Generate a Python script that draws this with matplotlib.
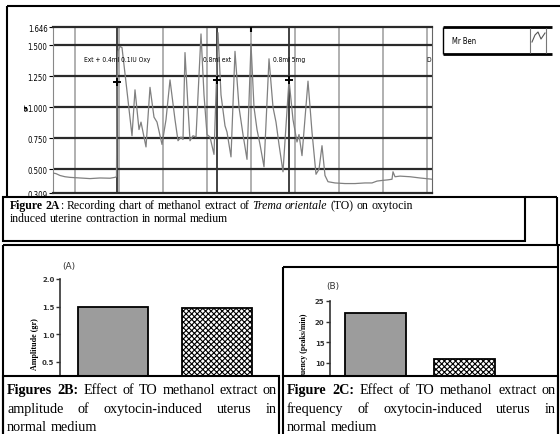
import matplotlib
matplotlib.use("Agg")
import matplotlib.pyplot as plt
from matplotlib.patches import Rectangle

# ---- data ----
# uterine trace (time in chart units, tension in gr)
trace_t = [0, 3, 7, 12, 17, 27, 37, 47, 57, 62, 63.5, 64, 65, 67, 69, 73, 79, 82, 86, 88,
           90, 93, 97, 101, 104, 109, 113, 117, 122, 125, 128, 130, 132, 135, 137, 140, 143,
           148, 151, 154, 157, 161, 165, 168, 172, 174, 178, 182, 186, 190, 194, 198, 201,
           204, 207, 211, 216, 220, 223, 226, 230, 236, 240, 244, 246, 249, 255, 259, 263,
           266, 269, 272, 275, 282, 292, 302, 312, 319, 324, 329, 335, 339, 340, 342, 347,
           357, 367, 379]
trace_v = [0.47, 0.465, 0.45, 0.44, 0.435, 0.43, 0.425, 0.43, 0.428, 0.435, 0.44, 1.2, 1.45,
           1.49, 1.48, 1.2, 0.77, 1.14, 0.82, 0.88, 0.80, 0.68, 1.16, 0.92, 0.88, 0.70, 0.9,
           1.22, 0.9, 0.73, 0.76, 0.74, 1.44, 1.0, 0.73, 0.77, 0.76, 1.59, 1.1, 0.78, 0.76,
           0.62, 1.60, 1.1, 0.85, 0.8, 0.60, 1.45, 1.0, 0.78, 0.58, 1.51, 1.0, 0.82, 0.7,
           0.52, 1.39, 1.0, 0.88, 0.7, 0.48, 1.22, 0.9, 0.72, 0.78, 0.61, 1.21, 0.8, 0.46,
           0.5, 0.69, 0.45, 0.40, 0.39, 0.385, 0.385, 0.39, 0.39, 0.405, 0.41, 0.415, 0.42,
           0.48, 0.44, 0.445, 0.44, 0.43, 0.42]
event_t = [64, 164, 236]
event_v = [1.20, 1.22, 1.22]
event_labels = ["Ext + 0.4ml 0.1IU Oxy", "0.8ml ext", "0.8ml 5mg"]
trace_ticks = [0.309, 0.5, 0.75, 1.0, 1.25, 1.5, 1.646]

groups = ["Control", "TO"]
amplitude = [1.5, 1.48]
frequency = [22, 11]
amp_ticks = [0.5, 1.0, 1.5, 2.0]
freq_ticks = [10, 15, 20, 25]

W, H = 560, 435
plt.rcParams["hatch.linewidth"] = 0.8
fig = plt.figure(figsize=(5.6, 4.35), dpi=100)


def rect(x, y, w, h):
    return [x / W, 1 - (y + h) / H, w / W, h / H]


narrow = dict(family="DejaVu Sans", fontstretch="condensed")
serif = "Liberation Serif"

# ---- Figure 2A: recording chart ----
ax = fig.add_axes(rect(53, 28, 379, 166))
ax.set_xlim(0, 379)
ax.set_ylim(trace_ticks[0], trace_ticks[-1])
for t in range(22, 379, 44):
    ax.axvline(t, color="#aaaaaa", lw=1.3, zorder=0)
for v in trace_ticks[1:-1]:
    ax.axhline(v, color="#2a2a2a", lw=1.6, zorder=1)
for t in event_t:
    ax.axvline(t, color="#333333", lw=1.3, zorder=1)
ax.plot(trace_t, trace_v, color="#808080", lw=0.9, zorder=3)
ax.plot(event_t, event_v, "+", color="k", ms=6, mew=1.4, zorder=4)
ax.plot([198], [1.63], "|", color="k", ms=4, mew=1.5, zorder=4)
for t, lab in zip(event_t, event_labels):
    ax.text(t, 1.39, lab, ha="center", va="center", fontsize=4.8, zorder=5, **narrow)
ax.text(376, 1.39, "D", ha="center", va="center", fontsize=4.8, **narrow)
ax.set_xticks([])
ax.set_yticks(trace_ticks)
ax.set_yticklabels([f"{v:.3f}" for v in trace_ticks], **narrow)
ax.tick_params(axis="y", length=3, width=0.8, labelsize=5.6, pad=1)
for s in ["top", "bottom"]:
    ax.spines[s].set_linewidth(1.6)
    ax.spines[s].set_color("#2a2a2a")
ax.spines["left"].set_color("#888888")
ax.spines["right"].set_color("#666666")

# ---- Figure 2B: amplitude ----
axA = fig.add_axes(rect(60, 280, 210, 110))
axA.bar([0, 1], amplitude, width=0.673, color=["#9c9c9c", "white"],
        edgecolor="black", lw=1.3, hatch=["", "xxxxxx"])
axA.set_xlim(-0.51, 1.51)
axA.set_ylim(0, 2)
axA.set_yticks(amp_ticks)
axA.set_yticklabels([f"{v:.1f}" for v in amp_ticks])

# ---- Figure 2C: frequency ----
axB = fig.add_axes(rect(330, 302, 225, 103))
axB.bar([0, 1], frequency, width=0.685, color=["#9c9c9c", "white"],
        edgecolor="black", lw=1.3, hatch=["", "xxxxxx"])
axB.set_xlim(-0.506, 2.02)
axB.set_ylim(0, 25)
axB.set_yticks(freq_ticks)

for a in (axA, axB):
    a.patch.set_alpha(0)
    for s in ["top", "right", "bottom"]:
        a.spines[s].set_visible(False)
    a.spines["left"].set_linewidth(1.2)
    a.spines["left"].set_color("#333333")
    a.set_xticks([])
    a.tick_params(axis="y", length=3, width=1, labelsize=5, pad=1, colors="#333333")
    for lab in a.get_yticklabels():
        lab.set_fontweight("bold")

# ---- overlay for boxes, captions and loose labels (pixel coordinates) ----
ov = fig.add_axes([0, 0, 1, 1], zorder=10)
ov.set_xlim(0, W)
ov.set_ylim(H, 0)
ov.axis("off")
ov.patch.set_alpha(0)


def hline(y, x0, x1, lw=1.5, c="black"):
    ov.plot([x0, x1], [y, y], color=c, lw=lw, solid_capstyle="butt", zorder=6)


def vline(x, y0, y1, lw=1.5, c="black"):
    ov.plot([x, x], [y0, y1], color=c, lw=lw, solid_capstyle="butt", zorder=6)


# panel frames
hline(7, 7, 560)
vline(7, 7, 198)
vline(557, 198, 246)
hline(198, 525, 557)
hline(246, 3, 560)
vline(3, 246, 435)
hline(268, 283, 558)
vline(283, 268, 377)
vline(558, 246, 435)
for x0, y0, w, h in [(3, 198, 522, 44), (3, 377, 276, 60), (283, 377, 275, 60)]:
    ov.add_patch(Rectangle((x0, y0), w, h, facecolor="white", edgecolor="black",
                           lw=1.5, zorder=5))

# legend box
hline(28, 443, 552, lw=2)
hline(55, 443, 552, lw=2)
vline(443, 28, 55, lw=1)
vline(530, 29, 54, lw=0.8, c="#777777")
vline(546, 29, 54, lw=0.8, c="#777777")
ov.text(452, 42, "Mr Ben", fontsize=5.5, va="center", **narrow)
ov.plot([532, 535, 538, 541, 543, 545], [43, 36, 33, 40, 37, 34], color="#555555", lw=0.8)

# loose chart labels
ov.text(26, 107, "gr", rotation=90, fontsize=4.5, fontweight="bold", ha="center", va="center")
ov.text(69, 267, "(A)", fontsize=6.5, ha="center", va="center", color="#333333")
ov.text(333, 287, "(B)", fontsize=6.5, ha="center", va="center", color="#333333")
ov.text(35, 344, "Amplitude (gr)", rotation=90, fontsize=5.8, family=serif,
        fontweight="bold", ha="center", va="center", zorder=1)
freq_lab = ov.text(304, 352, "Frequency (peaks/min)", rotation=90, fontsize=5.6, family=serif,
                   fontweight="bold", ha="center", va="center", zorder=1)
clip = Rectangle((284, 269), 60, 107, transform=ov.transData, visible=False)
ov.add_patch(clip)
freq_lab.set_clip_path(clip)

renderer = fig.canvas.get_renderer()


def width(s, size, wt, st):
    t = ov.text(0, 0, s, family=serif, fontsize=size, fontweight=wt, fontstyle=st)
    w = t.get_window_extent(renderer).width
    t.remove()
    return w


def measure(line, size):
    return [sum(width(s, size, wt, st) for s, wt, st in g) for g in line]


def fit_size(line, target, s0=10.0):
    ws = measure(line, s0)
    natural = sum(ws) + 0.25 * s0 * 100 / 72 * (len(line) - 1)
    return s0 * target / natural


def draw_line(line, x0, y, size, x1=None):
    # line: list of words, each a list of (text, weight, style) pieces
    ws = measure(line, size)
    if x1 is not None and len(line) > 1:
        gap = (x1 - x0 - sum(ws)) / (len(line) - 1)
    else:
        gap = 0.25 * size * 100 / 72
    x = x0
    for g, w in zip(line, ws):
        xx = x
        for s, wt, st in g:
            ov.text(xx, y, s, family=serif, fontsize=size, fontweight=wt, fontstyle=st,
                    va="baseline", zorder=7)
            xx += width(s, size, wt, st)
        x += w + gap


def words(s, weight="normal", style="normal"):
    return [[(w, weight, style)] for w in s.split()]


N, B, I = "normal", "bold", "italic"

# caption 2A
line1 = ([[("Figure", B, N)], [("2A", B, N), (":", N, N)]] + words("Recording chart of methanol extract of")
         + [[("Trema", N, I)], [("orientale", N, I)]] + words("(TO) on oxytocin"))
sA = fit_size(line1, 402)
draw_line(line1, 10, 209, sA)
draw_line(words("induced uterine contraction in normal medium"), 10, 222, sA)

# caption 2B
lineB = [[("Figures", B, N)], [("2B:", B, N)]] + words("Effect of TO methanol extract on")
sB = fit_size(lineB, 262)
draw_line(lineB, 7, 394, sB, x1=277)
draw_line(words("amplitude of oxytocin-induced uterus in"), 7, 413, sB, x1=277)
draw_line(words("normal medium"), 7, 431, sB)

# caption 2C
lineC = [[("Figure", B, N)], [("2C:", B, N)]] + words("Effect of TO methanol extract on")
draw_line(lineC, 287, 394, sB, x1=556)
draw_line(words("frequency of oxytocin-induced uterus in"), 287, 413, sB, x1=556)
draw_line(words("normal medium"), 287, 431, sB)

fig.savefig("out.png", dpi=100)
